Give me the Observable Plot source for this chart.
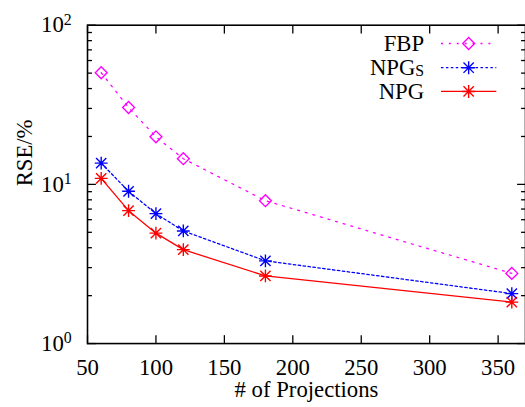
<!DOCTYPE html>
<html><head><meta charset="utf-8">
<script src="https://cdn.jsdelivr.net/npm/d3@7"></script>
<script src="https://cdn.jsdelivr.net/npm/@observablehq/plot@0.6"></script>
<style>
html,body{margin:0;padding:0;overflow:hidden;background:#fff;width:525px;height:407px}
</style>
</head><body><div id="chart"></div>
<script>
// Data
const projections = [60, 80, 100, 120, 180, 360];
const fbp  = [50.3, 30.4, 19.9, 14.5, 7.9, 2.76];
const npgS = [13.6, 9.05, 6.55, 5.1, 3.31, 2.06];
const npg  = [10.9, 6.84, 4.94, 3.89, 2.66, 1.82];
const seriesNames = ["FBP", "NPG_S", "NPG"];
const seriesColors = ["#ff00ff", "#0000ff", "#ff0000"];
const xTicks = [50, 100, 150, 200, 250, 300, 350];
const yMajor = [1, 10, 100];
const yMinor = [2, 3, 4, 5, 6, 7, 8, 9, 20, 30, 40, 50, 60, 70, 80, 90];
const xLabel = "# of Projections";
const yLabel = "RSE/%";
const FONT = "Liberation Serif";
const FS = 23;

const starSymbol = {draw(ctx, size) {
  const r = Math.sqrt(size / Math.PI), d = r * 0.8;
  ctx.moveTo(-r, 0); ctx.lineTo(r, 0);
  ctx.moveTo(0, -r); ctx.lineTo(0, r);
  ctx.moveTo(-d, -d); ctx.lineTo(d, d);
  ctx.moveTo(-d, d); ctx.lineTo(d, -d);
}};
const diamondSymbol = {draw(ctx, size) {
  const r = Math.sqrt(size / Math.PI);
  ctx.moveTo(0, -r); ctx.lineTo(r, 0); ctx.lineTo(0, r); ctx.lineTo(-r, 0); ctx.closePath();
}};

const rows = (vals) => projections.map((x, i) => ({x, y: vals[i]}));
const fbpRows = rows(fbp), npgSRows = rows(npgS), npgRows = rows(npg);

const styles = [
  {rows: fbpRows, color: seriesColors[0], dash: "2,6", symbol: diamondSymbol, r: 6},
  {rows: npgSRows, color: seriesColors[1], dash: "2.5,2.5", symbol: starSymbol, r: 6.5},
  {rows: npgRows, color: seriesColors[2], dash: null, symbol: starSymbol, r: 6.5}
];

const marks = [];
for (const s of styles) {
  marks.push(Plot.line(s.rows, {x: "x", y: "y", stroke: s.color, strokeWidth: 1.3, strokeDasharray: s.dash}));
  marks.push(Plot.dot(s.rows, {x: "x", y: "y", stroke: s.color, strokeWidth: 1.4, symbol: s.symbol, r: s.r, fill: "none"}));
}

const plot = Plot.plot({
  width: 531,
  height: 407,
  marginLeft: 88,
  marginRight: 0,
  marginTop: 25,
  marginBottom: 60,
  style: {fontSize: FS + "px", fontFamily: FONT, background: "#fff"},
  x: {domain: [50, 370], axis: null},
  y: {type: "log", domain: [1, 100], axis: null},
  marks: [
    ...marks,
    Plot.axisX({anchor: "bottom", ticks: xTicks, tickSize: -8, tickFormat: () => "", label: null, strokeWidth: 1.3}),
    Plot.axisX({anchor: "top", ticks: xTicks, tickSize: -8, tickFormat: () => "", label: null, strokeWidth: 1.3}),
    Plot.axisX({anchor: "bottom", ticks: xTicks, tickSize: 0, tickPadding: 15, fontSize: FS, fontFamily: FONT, label: null}),
    Plot.axisY({anchor: "left", ticks: yMajor, tickSize: -9, tickFormat: () => "", label: null, strokeWidth: 1.3}),
    Plot.axisY({anchor: "right", ticks: yMajor, tickSize: -9, tickFormat: () => "", label: null, strokeWidth: 1.3}),
    Plot.axisY({anchor: "left", ticks: yMinor, tickSize: -5, tickFormat: () => "", label: null, strokeWidth: 1.3}),
    Plot.axisY({anchor: "right", ticks: yMinor, tickSize: -5, tickFormat: () => "", label: null, strokeWidth: 1.3}),
    Plot.axisY({anchor: "left", ticks: yMajor, tickSize: 0, tickPadding: 16, fontSize: FS, fontFamily: FONT, label: null,
      tickFormat: d => "10^" + Math.round(Math.log10(d))}),
    Plot.frame({stroke: "black", strokeWidth: 1.6}),
    Plot.text([xLabel], {frameAnchor: "bottom", lineAnchor: "bottom", dy: 54.5, fontSize: FS, fontFamily: FONT, fill: "black"}),
    Plot.text([yLabel], {frameAnchor: "left", rotate: -90, dx: -63, dy: 2, fontSize: FS, fontFamily: FONT, fill: "black"})
  ]
});

document.getElementById("chart").appendChild(plot);
plot.setAttribute("font-family", FONT);

// superscript exponents on y tick labels
plot.querySelectorAll("text").forEach(t => {
  t.setAttribute("font-family", FONT);
  const m = /^10\^(\d+)$/.exec(t.textContent);
  if (m) {
    t.textContent = "10";
    const ts = document.createElementNS("http://www.w3.org/2000/svg", "tspan");
    ts.setAttribute("dy", "-8");
    ts.setAttribute("font-size", "16");
    ts.textContent = m[1];
    t.appendChild(ts);
  }
});

// legend
const svg = d3.select(plot);
const leg = svg.append("g").attr("font-size", FS).attr("font-family", FONT);
const rowY = [44, 68.5, 92.5];
styles.forEach((s, i) => {
  const y = rowY[i];
  const txt = leg.append("text").attr("x", 429).attr("y", y).attr("dy", "0.32em").attr("text-anchor", "end").attr("fill", "black");
  const name = seriesNames[i];
  if (name.includes("_")) {
    const [base, sub] = name.split("_");
    txt.text(base);
    txt.append("tspan").attr("font-size", 16).attr("dy", 1).text(sub);
  } else txt.text(name);
  leg.append("line").attr("x1", 446).attr("x2", 502).attr("y1", y).attr("y2", y)
    .attr("stroke", s.color).attr("stroke-width", 1.3).attr("stroke-dasharray", s.dash);
  leg.append("path").attr("transform", `translate(474,${y})`)
    .attr("d", d3.symbol(s.symbol, Math.PI * s.r * s.r)())
    .attr("fill", "none").attr("stroke", s.color).attr("stroke-width", 1.4);
});
</script>
</body></html>
